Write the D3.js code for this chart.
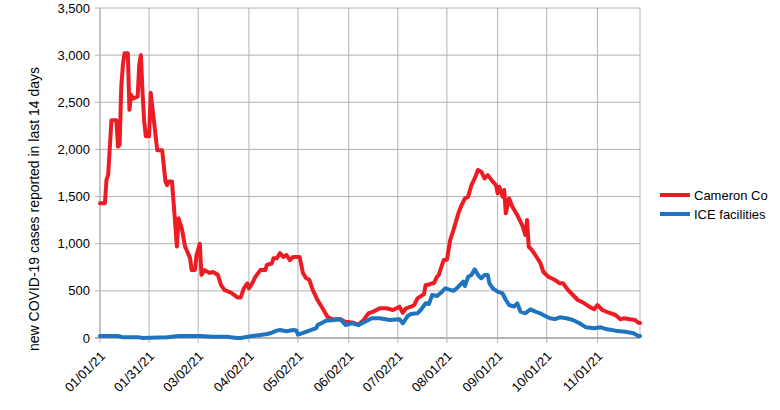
<!DOCTYPE html>
<html>
<head>
<meta charset="utf-8">
<script src="https://cdn.jsdelivr.net/npm/d3@7"></script>
<style>
  body { margin: 0; background: #fff; }
  text { font-family: "Liberation Sans", Arial, sans-serif; fill: #000; }
</style>
</head>
<body>
<script>
// days counted from 01/01/21
var redDays = [0, 3, 4, 5, 7, 10, 11, 12, 13, 14, 15, 17, 18, 19, 20, 23, 24, 25, 26, 27, 28, 30, 31,
  35, 38, 40, 41, 42, 44, 47, 48, 50, 52, 55, 56, 58, 59, 61, 62, 64, 67, 69, 72, 74, 76, 80, 84, 86,
  88, 90, 91, 93, 95, 98, 101, 102, 105, 106, 108, 110, 112, 114, 116, 118, 122, 124, 126, 128, 130,
  133, 136, 139, 142, 147, 150, 155, 158, 161, 164, 167, 171, 175, 179, 183, 185, 187, 190, 192, 194,
  198, 199, 200, 203, 204, 206, 207, 210, 212, 214, 216, 219, 221, 223, 225, 227, 229, 231, 233, 235,
  237, 240, 242, 243, 244, 246, 247, 248, 250, 252, 255, 258, 260, 261, 262, 264, 266, 269, 271, 274,
  278, 281, 283, 286, 289, 292, 296, 299, 302, 304, 307, 311, 315, 318, 320, 324, 327, 329, 330];
var redVals = [1430, 1430, 1680, 1730, 2310, 2310, 2030, 2050, 2660, 2900, 3020, 3020, 2420, 2580, 2540, 2560, 2900, 3000, 2600, 2300, 2140, 2140, 2600,
  1990, 1990, 1660, 1620, 1660, 1660, 970, 1270, 1160, 970, 850, 720, 720, 880, 1000, 670, 720, 690, 700, 670, 560, 510, 480, 430, 430,
  530, 580, 527, 580, 650, 720, 720, 775, 790, 845, 845, 900, 860, 880, 825, 860, 860, 690, 635, 615, 510,
  400, 315, 225, 198, 198, 173, 162, 140, 190, 262, 280, 315, 315, 297, 332, 268, 315, 332, 350, 420,
  465, 562, 562, 580, 580, 650, 668, 827, 830, 1039, 1145, 1322, 1410, 1481, 1499, 1622, 1693, 1782, 1764, 1693,
  1728, 1658, 1622, 1534, 1605, 1499, 1570, 1322, 1481, 1393, 1304, 1198, 1092, 1251, 968, 933, 880, 800, 700, 650,
  615, 580, 580, 509, 456, 403, 368, 332, 304, 350, 297, 268, 244, 198, 209, 198, 191, 162, 160];

var blueDays = [0, 11, 14, 24, 26, 41, 48, 54, 61, 69, 77, 84, 86, 92, 98, 102, 104, 108, 110, 114, 118, 120,
  121, 125, 130, 132, 133, 137, 138, 143, 147, 150, 154, 158, 162, 166, 171, 177, 183, 185, 188, 190, 194,
  196, 199, 201, 203, 206, 209, 211, 214, 216, 218, 220, 222, 223, 225, 227, 229, 231, 233, 235, 237, 238,
  240, 243, 246, 248, 250, 253, 255, 257, 260, 263, 266, 269, 272, 275, 278, 281, 285, 289, 293, 297, 302,
  306, 310, 315, 321, 326, 329, 330];
var blueVals = [21, 21, 7, 7, 0, 7, 21, 21, 21, 14, 14, 0, 0, 18, 32, 42, 50, 78, 85, 72, 85, 80,
  35, 60, 92, 103, 138, 173, 184, 191, 198, 138, 156, 138, 173, 209, 209, 191, 198, 156, 233, 254, 262,
  297, 368, 360, 456, 445, 491, 527, 510, 500, 527, 562, 597, 550, 650, 668, 728, 668, 633, 668, 668, 580,
  527, 491, 474, 403, 350, 333, 368, 279, 262, 304, 280, 262, 233, 209, 200, 219, 209, 191, 156, 113, 103,
  113, 92, 78, 67, 50, 21, 20];

var tickLabels = ["01/01/21", "01/31/21", "03/02/21", "04/02/21", "05/02/21", "06/02/21",
  "07/02/21", "08/01/21", "09/01/21", "10/01/21", "11/01/21"];
var yTicks = [0, 500, 1000, 1500, 2000, 2500, 3000, 3500];
var seriesNames = ["Cameron Co", "ICE facilities"];
var colors = ["#ed1c24", "#1f74c0"];

var W = 780, H = 410;
var margin = { top: 8, right: 140, bottom: 72, left: 100 };
var width = W - margin.left - margin.right,
  height = H - margin.top - margin.bottom;

var parse = d3.timeParse("%m/%d/%y");
var start = parse("01/01/21");
function toDate(d) { return d3.timeDay.offset(start, d); }

var svg = d3.select("body").append("svg")
  .attr("width", W)
  .attr("height", H);
var g = svg.append("g").attr("transform", "translate(" + margin.left + "," + margin.top + ")");

var x = d3.scaleTime()
  .domain([start, toDate(330)])
  .range([0, width]);
var y = d3.scaleLinear()
  .domain([0, 3500])
  .range([height, 0]);

var tickDates = tickLabels.map(parse);

// grid
g.append("g").selectAll("line")
  .data(yTicks)
  .enter().append("line")
  .attr("x1", -5).attr("x2", width)
  .attr("y1", function (d) { return y(d); })
  .attr("y2", function (d) { return y(d); })
  .attr("stroke", "#b3b3b3");

g.append("g").selectAll("line")
  .data(tickDates)
  .enter().append("line")
  .attr("x1", function (d) { return x(d); })
  .attr("x2", function (d) { return x(d); })
  .attr("y1", 0).attr("y2", height + 5)
  .attr("stroke", "#b3b3b3");

g.append("line")
  .attr("x1", width).attr("x2", width)
  .attr("y1", 0).attr("y2", height)
  .attr("stroke", "#b3b3b3");

g.append("line")
  .attr("x1", 0).attr("x2", 0)
  .attr("y1", 0).attr("y2", height)
  .attr("stroke", "#b3b3b3");

// y tick labels
g.append("g").selectAll("text")
  .data(yTicks)
  .enter().append("text")
  .attr("x", -10)
  .attr("y", function (d) { return y(d); })
  .attr("dy", "0.35em")
  .style("text-anchor", "end")
  .style("font-size", "13px")
  .text(d3.format(","));

// x tick labels
g.append("g").selectAll("text")
  .data(tickDates)
  .enter().append("text")
  .attr("transform", function (d, i) { return "translate(" + (x(d) + 6) + "," + (height + 19) + ") rotate(-45)"; })
  .style("text-anchor", "end")
  .style("font-size", "13px")
  .text(function (d, i) { return tickLabels[i]; });

// lines
var line = d3.line()
  .x(function (d) { return x(toDate(d[0])); })
  .y(function (d) { return y(d[1]); });

var series = [
  redDays.map(function (d, i) { return [d, redVals[i]]; }),
  blueDays.map(function (d, i) { return [d, blueVals[i]]; })
];

// bottom axis line
g.append("line")
  .attr("x1", -5).attr("x2", width)
  .attr("y1", height).attr("y2", height)
  .attr("stroke", "#b3b3b3")
  .attr("stroke-width", 2);

g.append("g").selectAll("path")
  .data(series)
  .enter().append("path")
  .attr("d", line)
  .attr("fill", "none")
  .attr("stroke", function (d, i) { return colors[i]; })
  .attr("stroke-width", 4)
  .attr("stroke-linejoin", "round")
  .attr("stroke-linecap", "round");

// y axis title
svg.append("text")
  .attr("transform", "translate(39," + 209 + ") rotate(-90)")
  .style("text-anchor", "middle")
  .style("font-size", "14px")
  .text("new COVID-19 cases reported in last 14 days");

// legend
var legend = svg.append("g")
  .attr("transform", "translate(660,195)")
  .selectAll("g")
  .data(seriesNames)
  .enter().append("g")
  .attr("transform", function (d, i) { return "translate(0," + i * 19 + ")"; });

legend.append("line")
  .attr("x1", 0).attr("x2", 30)
  .attr("stroke", function (d, i) { return colors[i]; })
  .attr("stroke-width", 4);

legend.append("text")
  .attr("x", 34)
  .attr("dy", "0.35em")
  .style("font-size", "13px")
  .text(function (d) { return d; });
</script>
</body>
</html>
